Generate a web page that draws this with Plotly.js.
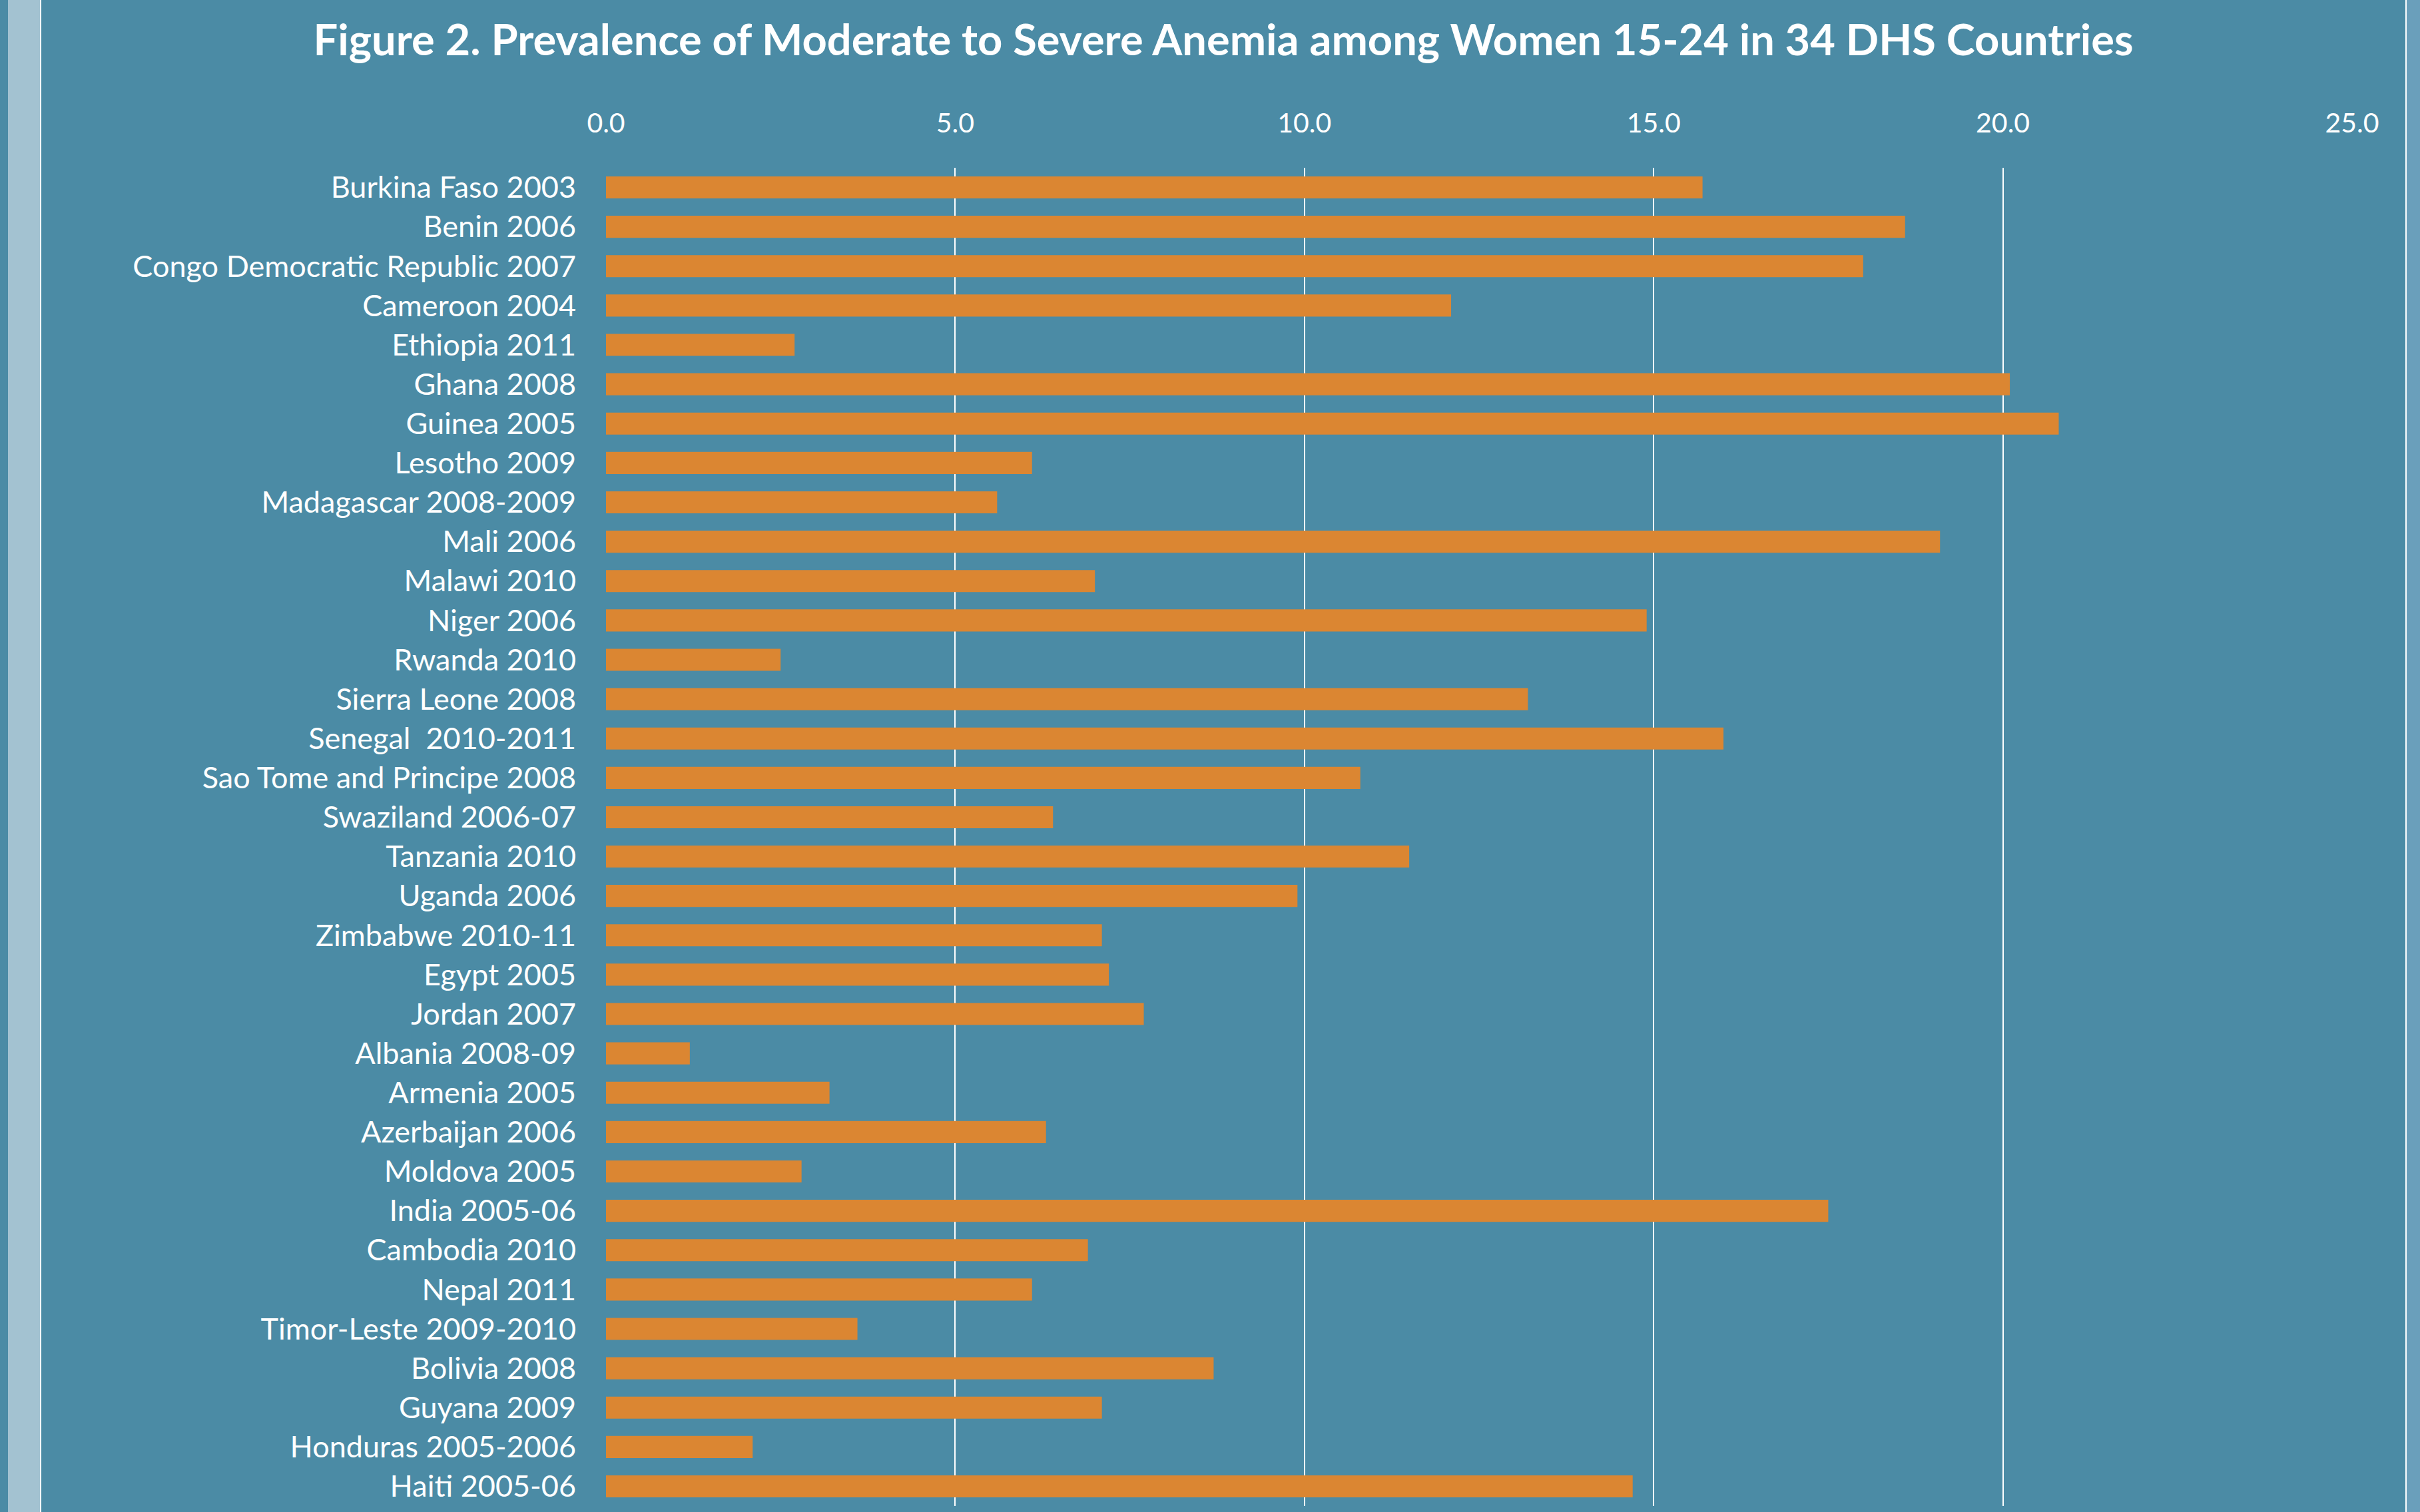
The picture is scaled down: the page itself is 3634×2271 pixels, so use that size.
<!DOCTYPE html>
<html>
<head>
<meta charset="utf-8">
<script src="https://cdn.plot.ly/plotly-3.0.1.min.js"></script>
<style>
  html, body { margin: 0; padding: 0; background: #4b8ba5; }
  #chart { width: 3634px; height: 2271px; }
</style>
</head>
<body>
<div id="chart"></div>
<script>
const countries = [
  "Burkina Faso 2003", "Benin 2006", "Congo Democratic Republic 2007", "Cameroon 2004",
  "Ethiopia 2011", "Ghana 2008", "Guinea 2005", "Lesotho 2009", "Madagascar 2008-2009",
  "Mali 2006", "Malawi 2010", "Niger 2006", "Rwanda 2010", "Sierra Leone 2008",
  "Senegal\u00a0 2010-2011", "Sao Tome and Principe 2008", "Swaziland 2006-07", "Tanzania 2010",
  "Uganda 2006", "Zimbabwe 2010-11", "Egypt 2005", "Jordan 2007", "Albania 2008-09",
  "Armenia 2005", "Azerbaijan 2006", "Moldova 2005", "India 2005-06", "Cambodia 2010",
  "Nepal 2011", "Timor-Leste 2009-2010", "Bolivia 2008", "Guyana 2009",
  "Honduras 2005-2006", "Haiti 2005-06"
];
const prevalence = [
  15.7, 18.6, 18.0, 12.1,
  2.7, 20.1, 20.8, 6.1, 5.6,
  19.1, 7.0, 14.9, 2.5, 13.2,
  16.0, 10.8, 6.4, 11.5,
  9.9, 7.1, 7.2, 7.7, 1.2,
  3.2, 6.3, 2.8, 17.5, 6.9,
  6.1, 3.6, 8.7, 7.1,
  2.1, 14.7
];
const tickValues = [0, 5, 10, 15, 20, 25];

const W = 3634, H = 2271;
const M = { l: 910, r: 102, t: 252, b: 9 };
const pw = W - M.l - M.r, ph = H - M.t - M.b;
const px = v => (v - M.l) / pw;
const py = v => (H - M.b - v) / ph;

const fontFam = "Lato, 'Open Sans', sans-serif";

const trace = {
  type: 'bar',
  orientation: 'h',
  y: countries,
  x: prevalence,
  marker: { color: '#db8632', line: { width: 0 } },
  hoverinfo: 'skip'
};

const layout = {
  width: W, height: H,
  margin: M,
  paper_bgcolor: '#4b8ba5',
  plot_bgcolor: 'rgba(0,0,0,0)',
  bargap: 0.44,
  showlegend: false,
  font: { family: fontFam, color: '#ffffff' },
  title: {
    text: '<b>Figure 2. Prevalence of Moderate to Severe Anemia among Women 15-24 in 34 DHS Countries</b>',
    font: { family: fontFam, size: 65, color: '#ffffff' },
    x: 1837 / W, xref: 'container', xanchor: 'center',
    y: 1 - 60 / H, yref: 'container', yanchor: 'middle'
  },
  xaxis: {
    side: 'top',
    range: [0, 25],
    tickvals: tickValues,
    tickformat: '.1f',
    showgrid: true, gridcolor: '#ffffff', gridwidth: 2,
    zeroline: false,
    showline: false,
    ticks: '',
    ticklabelstandoff: 44,
    tickfont: { family: fontFam, size: 41, color: '#ffffff' },
    fixedrange: true
  },
  yaxis: {
    type: 'category',
    autorange: 'reversed',
    showgrid: false, zeroline: false, showline: false,
    ticks: '',
    ticklabelstandoff: 44,
    tickfont: { family: fontFam, size: 45, color: '#ffffff' },
    fixedrange: true
  },
  shapes: [
    { type: 'rect', xref: 'paper', yref: 'paper', layer: 'below',
      x0: px(12), x1: px(60), y0: py(H + 5), y1: py(-5),
      fillcolor: '#a3c2d1', line: { width: 0 } },
    { type: 'line', xref: 'paper', yref: 'paper', layer: 'below',
      x0: px(61), x1: px(61), y0: py(H + 5), y1: py(-5),
      line: { color: '#ffffff', width: 2 } },
    { type: 'rect', xref: 'paper', yref: 'paper', layer: 'below',
      x0: px(3614), x1: px(W + 5), y0: py(H + 5), y1: py(-5),
      fillcolor: '#6a9fbb', line: { width: 0 } },
    { type: 'line', xref: 'paper', yref: 'paper', layer: 'below',
      x0: px(3613), x1: px(3613), y0: py(H + 5), y1: py(-5),
      line: { color: '#ffffff', width: 2 } }
  ]
};

Plotly.newPlot('chart', [trace], layout, { displayModeBar: false, staticPlot: true });
</script>
</body>
</html>
